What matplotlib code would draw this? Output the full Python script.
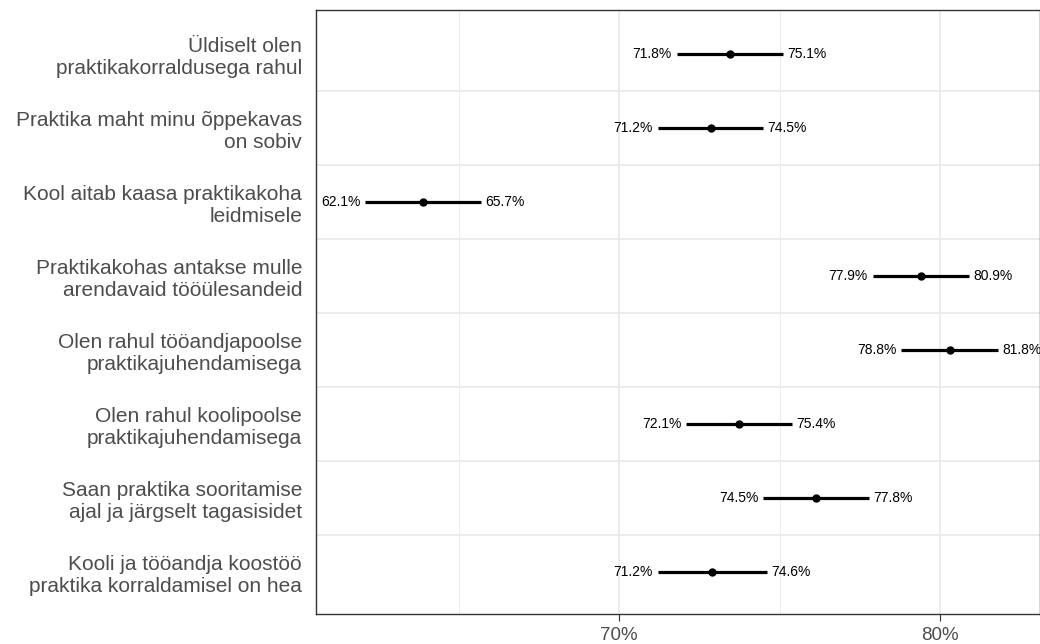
import matplotlib.pyplot as plt
from matplotlib.ticker import FixedLocator

plt.rcParams['font.family'] = ['Liberation Sans', 'DejaVu Sans']

# küsimused ja usaldusvahemikud (%)
labels = ['Üldiselt olen\npraktikakorraldusega rahul',
          'Praktika maht minu õppekavas\non sobiv',
          'Kool aitab kaasa praktikakoha\nleidmisele',
          'Praktikakohas antakse mulle\narendavaid tööülesandeid',
          'Olen rahul tööandjapoolse\npraktikajuhendamisega',
          'Olen rahul koolipoolse\npraktikajuhendamisega',
          'Saan praktika sooritamise\najal ja järgselt tagasisidet',
          'Kooli ja tööandja koostöö\npraktika korraldamisel on hea']
lower = [71.8, 71.2, 62.1, 77.9, 78.8, 72.1, 74.5, 71.2]
upper = [75.1, 74.5, 65.7, 80.9, 81.8, 75.4, 77.8, 74.6]
mean = [73.45, 72.85, 63.9, 79.4, 80.3, 73.75, 76.15, 72.9]

fig = plt.figure(figsize=(10.4, 6.44), dpi=100)
ax = fig.add_axes([316 / 1040, 1 - 614 / 644, 1 - 316 / 1040, (614 - 10) / 644])

pos = list(range(1, len(labels) + 1))

# ruudustik
ax.set_axisbelow(True)
ax.xaxis.set_minor_locator(FixedLocator([65, 75]))
ax.grid(axis='x', which='major', color='#EBEBEB', linewidth=1.3)
ax.grid(axis='x', which='minor', color='#EBEBEB', linewidth=0.7)
for p in pos[:-1]:
    ax.axhline(p + 0.5, color='#EBEBEB', linewidth=1.3, zorder=0)

for y, lo, hi, m in zip(pos, lower, upper, mean):
    ax.plot([lo, hi], [y, y], color='black', linewidth=2.3, solid_capstyle='butt')
    ax.plot(m, y, 'o', color='black', markersize=5)
    ax.annotate(f'{lo:.1f}%', (lo, y), xytext=(-3.5, 0), textcoords='offset points',
                ha='right', va='center', fontsize=10)
    ax.annotate(f'{hi:.1f}%', (hi, y), xytext=(3, 0), textcoords='offset points',
                ha='left', va='center', fontsize=10)

ax.set_xlim(60.56, 83.115)
ax.set_ylim(8.57, 0.405)
ax.set_xticks([70, 80])
ax.set_xticklabels(['70%', '80%'])
ax.set_yticks(pos)
ax.set_yticklabels(labels, fontsize=15, color='#4D4D4D', linespacing=1.2)
ax.tick_params(axis='y', length=0, pad=10)
ax.tick_params(axis='x', which='major', length=5, color='#333333', labelsize=13.5,
               labelcolor='#4D4D4D', pad=4)
ax.tick_params(axis='x', which='minor', length=0)

for s in ax.spines.values():
    s.set_color('#333333')
    s.set_linewidth(1.0)

fig.savefig('out.png', dpi=100)
